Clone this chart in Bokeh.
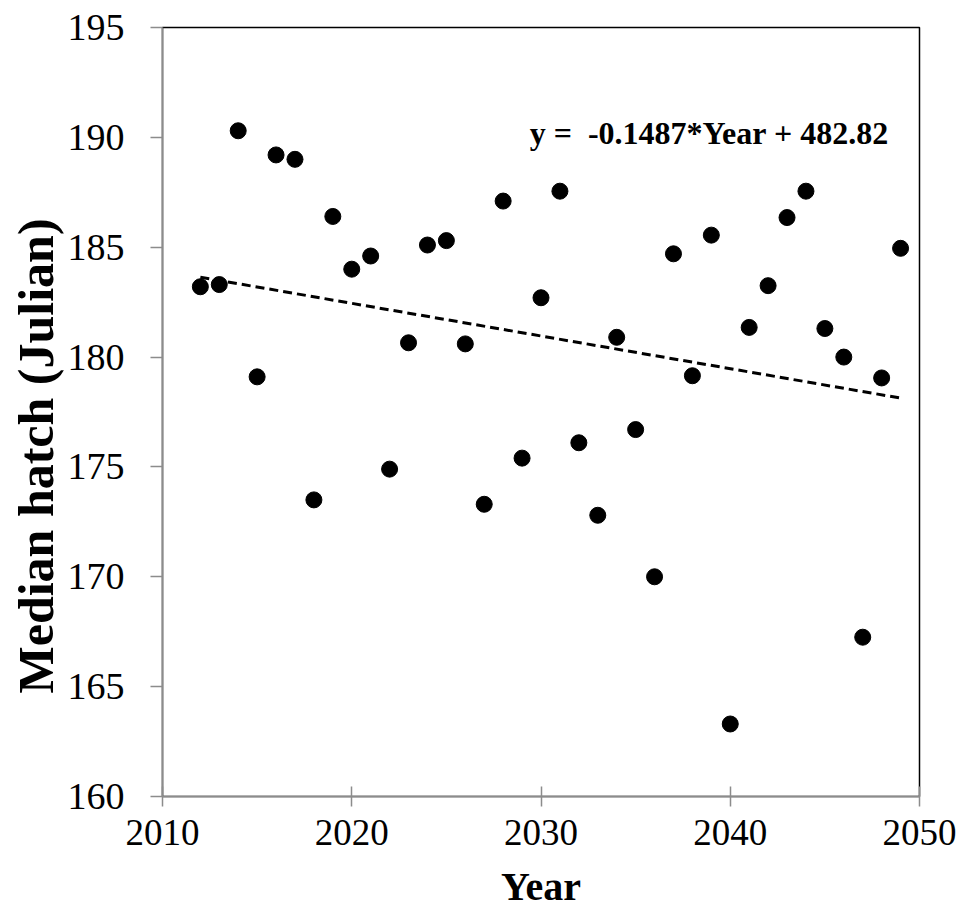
from bokeh.plotting import figure
from bokeh.models import Label, Range1d, FixedTicker, Title
from bokeh.embed import file_html
from bokeh.resources import INLINE

years = [2012, 2013, 2014, 2015, 2016, 2017, 2018, 2019, 2020, 2021,
         2022, 2023, 2024, 2025, 2026, 2027, 2028, 2029, 2030, 2031,
         2032, 2033, 2034, 2035, 2036, 2037, 2038, 2039, 2040, 2041,
         2042, 2043, 2044, 2045, 2046, 2047, 2048, 2049]
median_hatch = [183.2, 183.3, 190.3, 179.1, 189.2, 189.0, 173.5, 186.4, 184.0, 184.6,
                174.9, 180.65, 185.1, 185.3, 180.6, 173.3, 187.1, 175.4, 182.7, 187.55,
                176.1, 172.8, 180.9, 176.7, 170.0, 184.7, 179.15, 185.55, 163.3, 181.35,
                183.25, 186.35, 187.55, 181.3, 180.0, 167.25, 179.05, 184.95]
slope = -0.1487
intercept = 482.82
equation_text = "y =\u00a0 -0.1487*Year + 482.82"
y_title = "Median hatch (Julian)"
x_title = "Year"
x_ticks = [2010, 2020, 2030, 2040, 2050]
y_ticks = [160, 165, 170, 175, 180, 185, 190, 195]

SERIF = "Liberation Serif"
GRAY = "#8c8c8c"

p = figure(width=961, height=914, output_backend="svg", toolbar_location=None,
           x_range=Range1d(2010, 2050), y_range=Range1d(160, 195),
           min_border_left=162, min_border_right=42, min_border_top=27,
           min_border_bottom=118)
p.background_fill_color = "white"
p.border_fill_color = "white"
p.outline_line_color = "black"
p.outline_line_width = 1.5
p.xgrid.visible = False
p.ygrid.visible = False

# trend line from the fitted equation
trend_x = [years[0], years[-1]]
trend_y = [slope * x + intercept for x in trend_x]
p.line(trend_x, trend_y, line_color="black", line_width=3, line_dash="9 5")

p.scatter(years, median_hatch, size=16, fill_color="black", line_color="black")

# axes styling
p.xaxis.ticker = FixedTicker(ticks=x_ticks)
p.yaxis.ticker = FixedTicker(ticks=y_ticks)
for ax in (p.xaxis[0], p.yaxis[0]):
    ax.axis_line_color = GRAY
    ax.axis_line_width = 1.5
    ax.major_tick_line_color = GRAY
    ax.major_tick_line_width = 1.5
    ax.minor_tick_line_color = None
    ax.major_label_text_font = SERIF
    ax.major_label_text_color = "black"
    ax.axis_label_text_font = SERIF
    ax.axis_label_text_font_style = "bold"
    ax.axis_label_text_color = "black"

p.xaxis.major_tick_in = 10
p.xaxis.major_tick_out = 10
p.xaxis.major_label_text_font_size = "37px"
p.xaxis.major_label_standoff = 13
p.xaxis.axis_label = x_title
p.xaxis.axis_label_text_font_size = "40px"
p.xaxis.axis_label_standoff = 16

p.yaxis.major_tick_in = 0
p.yaxis.major_tick_out = 12
p.yaxis.major_label_text_font_size = "38px"
p.yaxis.major_label_standoff = 26

# y-axis title as a side title, starting a little above the frame bottom
ytitle = Title(text=y_title, align="left", offset=103, standoff=2,
               text_font=SERIF, text_font_size="50px", text_font_style="bold",
               text_color="black")
p.add_layout(ytitle, "left")

eq = Label(x=2029.4, y=190.2, text=equation_text, text_font=SERIF,
           text_font_size="32px", text_font_style="bold", text_color="black",
           text_align="left", text_baseline="alphabetic")
p.add_layout(eq)

open("out.html", "w").write(file_html(p, INLINE))
